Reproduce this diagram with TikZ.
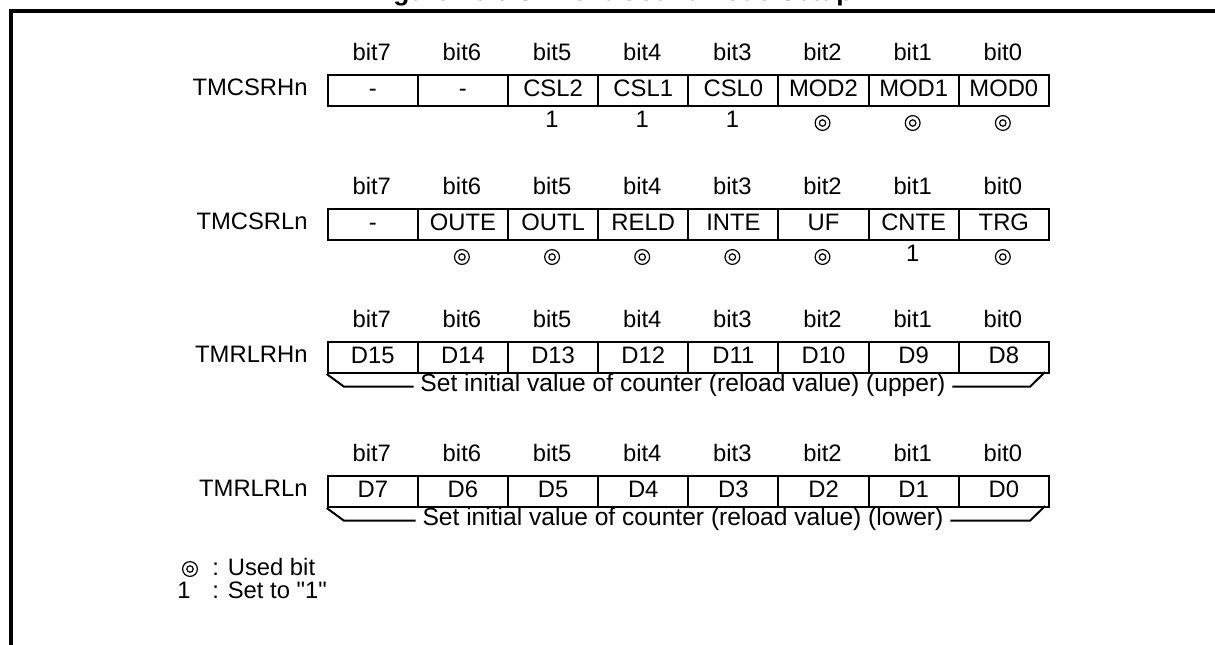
\documentclass[tikz,border=0pt]{standalone}
\usepackage{fontspec}
\setmainfont{Liberation Sans}[Ligatures=TeXOff]
\begin{document}
\begin{tikzpicture}[x=0.5pt,y=-0.5pt,
  every node/.style={font=\fontsize{11.9pt}{14pt}\selectfont, inner sep=0pt},
  cellbox/.style={draw, line width=1pt, minimum width=45.075pt, minimum height=15.5pt,
    anchor=north west, text height=8.5pt, text depth=2.38pt},
  bitlab/.style={anchor=base},
  reglab/.style={anchor=base east},
  setone/.style={anchor=base},
  bracetext/.style={anchor=base, inner xsep=3.2pt, font=\fontsize{12.3pt}{14pt}\selectfont},
  usedbit/.style={circle, draw, line width=0.6pt, minimum size=7.4pt, inner sep=0pt,
    path picture={\draw[line width=0.6pt] (path picture bounding box.center) circle (1.6pt);}},
  frameline/.style={line width=1.6pt},
  braceline/.style={line width=1pt},
  titletext/.style={anchor=base west, font=\bfseries\fontsize{13.2pt}{15pt}\selectfont}]
\useasboundingbox (0,0) rectangle (1215,644);

% title (mostly cut off by the page top)
\node[titletext] (title) at (369.5,0.3) {Figure 16.6-3 Event Count Mode Setup};

% frame
\coordinate (fbl) at (11,660);
\coordinate (ftl) at (11,11);
\coordinate (ftr) at (1230,11);
\draw[frameline] (fbl) -- (ftl) -- (ftr);

% ---------- generic rows ----------
\foreach \r/\T/\lab in {1/74/TMCSRHn, 2/208/TMCSRLn, 3/341/TMRLRHn, 4/475/TMRLRLn} {
  \node[reglab] (lab\r) at (308,\T+21) {\lab};
  \foreach \k in {0,...,7} {
    \node[bitlab] (bit\r-\k) at ({326.7+90.15*(7-\k)+45.075},\T-14) {bit\k};
  }
}

% row 1 cells
\foreach \k/\t in {7/-,6/-,5/CSL2,4/CSL1,3/CSL0,2/MOD2,1/MOD1,0/MOD0}
  \node[cellbox] (c1-\k) at ({326.7+90.15*(7-\k)},74) {\t};
% row 2 cells
\foreach \k/\t in {7/-,6/OUTE,5/OUTL,4/RELD,3/INTE,2/UF,1/CNTE,0/TRG}
  \node[cellbox] (c2-\k) at ({326.7+90.15*(7-\k)},208) {\t};
% row 3 cells
\foreach \k/\t in {7/D15,6/D14,5/D13,4/D12,3/D11,2/D10,1/D9,0/D8}
  \node[cellbox] (c3-\k) at ({326.7+90.15*(7-\k)},341) {\t};
% row 4 cells
\foreach \k/\t in {7/D7,6/D6,5/D5,4/D4,3/D3,2/D2,1/D1,0/D0}
  \node[cellbox] (c4-\k) at ({326.7+90.15*(7-\k)},475) {\t};

% row 1 marks
\foreach \k in {5,4,3}
  \node[setone] (m1-\k) at ({326.7+90.15*(7-\k)+45.075},127) {1};
\foreach \k in {2,1,0}
  \node[usedbit] (m1-\k) at ({326.7+90.15*(7-\k)+45.075},123) {};
% row 2 marks
\foreach \k in {6,5,4,3,2,0}
  \node[usedbit] (m2-\k) at ({326.7+90.15*(7-\k)+45.075},257) {};
\node[setone] (m2-1) at ({326.7+90.15*6+45.075},261) {1};

% row 3 and 4 brace texts
\node[bracetext] (b3) at (683,391.7) {Set initial value of counter (reload value) (upper)};
\node[bracetext] (b4) at (683,525.7) {Set initial value of counter (reload value) (lower)};
\coordinate (b3l) at (344,386.7);
\coordinate (b3r) at (1030,386.7);
\coordinate (b4l) at (344,520.7);
\coordinate (b4r) at (1030,520.7);
\coordinate (c3e) at (1045,372);
\coordinate (c4e) at (1045,506);
\draw[braceline] (c3-7.south west) -- (b3l) -- (b3l -| b3.west);
\draw[braceline] (b3r -| b3.east) -- (b3r) -- (c3e);
\draw[braceline] (c4-7.south west) -- (b4l) -- (b4l -| b4.west);
\draw[braceline] (b4r -| b4.east) -- (b4r) -- (c4e);

% legend
\node[usedbit] (lg1) at (190,569) {};
\node[anchor=base west] (lgt1) at (212,575) {: Used bit};
\node[anchor=base] (lg2) at (184,598) {1};
\node[anchor=base west] (lgt2) at (212,598) {: Set to "1"};
\end{tikzpicture}
\end{document}
